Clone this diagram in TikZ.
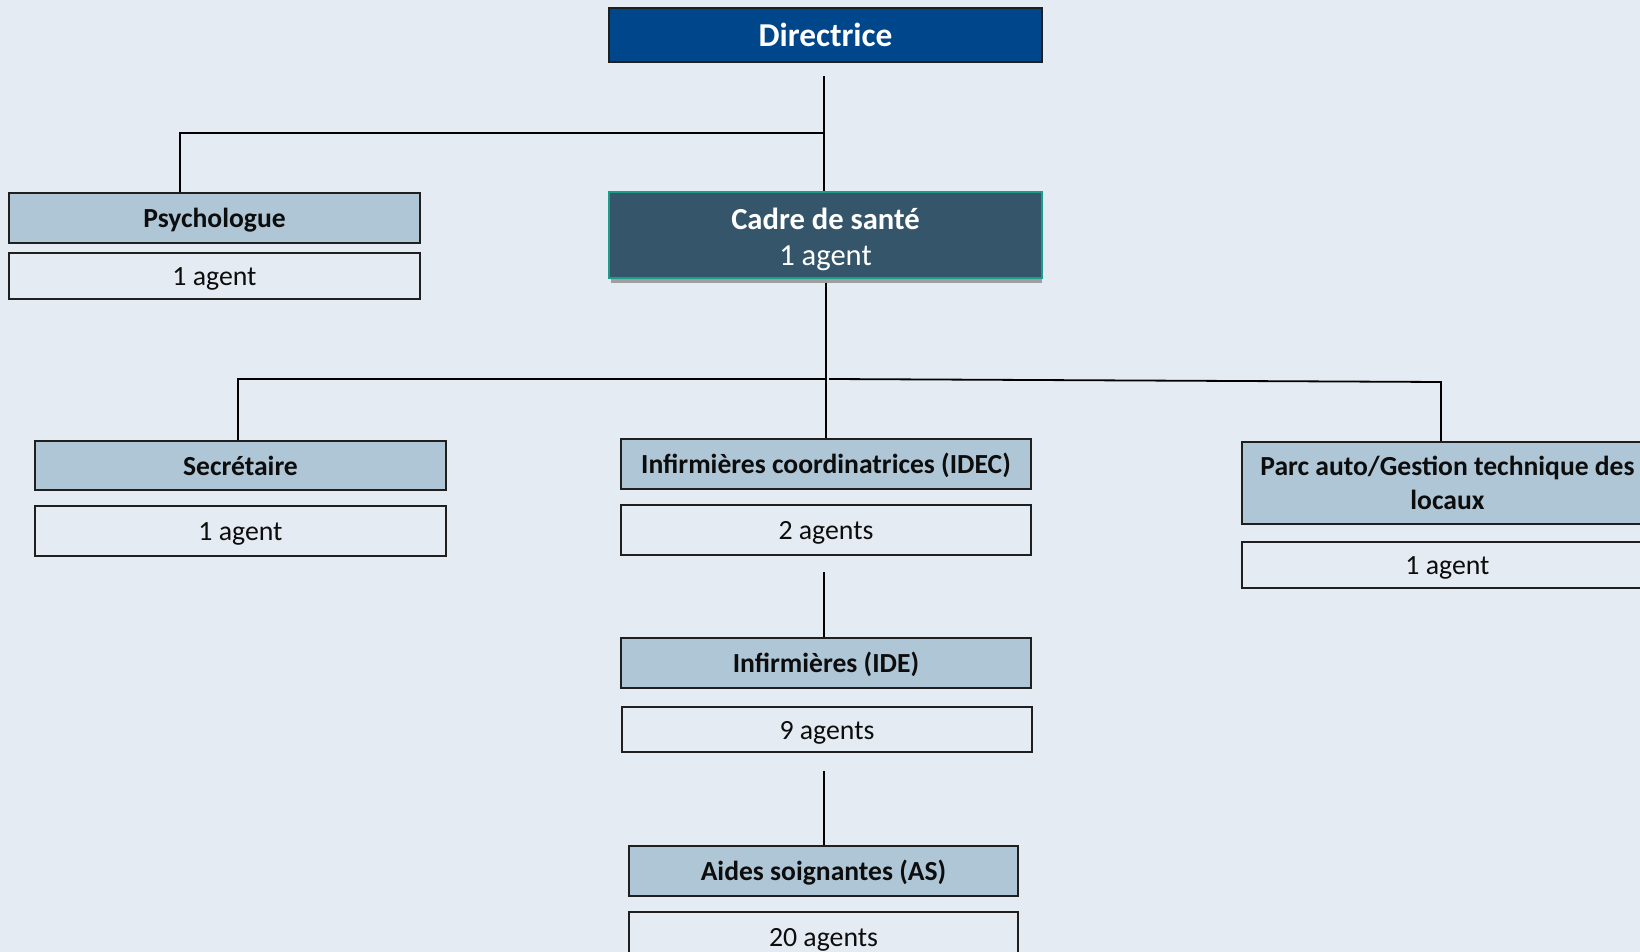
\documentclass[tikz,border=0pt]{standalone}
\usepackage{fontspec}
\setmainfont{Carlito}
\definecolor{bgc}{HTML}{E4EBF2}
\definecolor{dirblue}{HTML}{00468B}
\definecolor{cadrefill}{HTML}{34556A}
\definecolor{cadreedge}{HTML}{1E9C8A}
\definecolor{lightblue}{HTML}{AEC6D6}
\definecolor{edgec}{HTML}{1F1F1F}
\definecolor{txt}{HTML}{0D0D0D}
\tikzset{
  box/.style={draw=edgec, line width=0.9pt, inner sep=0pt, align=center, text=txt},
  oneline/.style={text height=10.5pt, text depth=1pt},
  titlebox/.style={box, fill=lightblue, font=\fontsize{13.8}{16.8}\selectfont\bfseries},
  agentbox/.style={box, oneline, font=\fontsize{13.9}{16.8}\selectfont},
  link/.style={draw=black, line width=0.9pt}
}
\begin{document}
\begin{tikzpicture}[x=0.5pt,y=-0.5pt]
\fill[bgc] (0,0) rectangle (1640,952);
\useasboundingbox (0,0) rectangle (1640,952);
% Directrice
\node[box, fill=dirblue, text=white, minimum width=216.5pt, minimum height=27pt, font=\fontsize{16.7}{20}\selectfont\bfseries] (dir) at (825.5,35) {Directrice};
% Cadre shadow + box
\fill[gray!75] (611,278) rectangle (1042,283);
\node[box, draw=cadreedge, line width=1pt, fill=cadrefill, text=white, minimum width=216.5pt, minimum height=43pt, font=\fontsize{15.3}{17.8}\selectfont] (cadre) at (825.5,235) {\rule{0pt}{15pt}\textbf{Cadre de santé}\\{\fontsize{15.3}{17.8}\selectfont 1 agent}};
\coordinate (cadrebot) at (826,283);
% Psychologue
\node[titlebox, oneline, minimum width=205.5pt, minimum height=25pt] (psy) at (214.5,218) {Psychologue};
\node[agentbox, minimum width=205.5pt, minimum height=23pt] (psya) at (214.5,276) {1 agent};
% Secretaire
\node[titlebox, oneline, minimum width=205.5pt, minimum height=24.5pt] (sec) at (240.5,465.5) {Secrétaire};
\node[agentbox, minimum width=205.5pt, minimum height=25pt] (seca) at (240.5,531) {1 agent};
% IDEC
\node[titlebox, oneline, minimum width=205pt, minimum height=25pt] (idec) at (826,464) {Infirmières coordinatrices (IDEC)};
\node[agentbox, minimum width=205pt, minimum height=25pt] (ideca) at (826,530) {2 agents};
% Parc
\node[titlebox, minimum width=205.5pt, minimum height=41pt] (parc) at (1447.5,483) {Parc auto/Gestion technique des\\locaux};
\node[agentbox, minimum width=205.5pt, minimum height=23pt] (parca) at (1447.5,565) {1 agent};
% IDE
\node[titlebox, oneline, minimum width=205pt, minimum height=25pt] (ide) at (826,663) {Infirmières (IDE)};
\node[agentbox, minimum width=205pt, minimum height=22.5pt] (idea) at (827,729.5) {9 agents};
% AS
\node[titlebox, oneline, minimum width=194.5pt, minimum height=25pt] (as) at (823.5,871) {Aides soignantes (AS)};
\node[agentbox, minimum width=194.5pt, minimum height=25pt] (asa) at (823.5,937) {20 agents};
% connectors
\coordinate (d0) at (824,76);
\coordinate (j1) at (824,133);
\coordinate (j2) at (826,379);
\coordinate (j3) at (829,379);
\coordinate (r1) at (1441,382);
\coordinate (g1) at (824,572);
\coordinate (g2) at (824,771);
\draw[link] (d0) -- (d0 |- cadre.north);
\draw[link] (j1) -| (psy.north -| 180,0);
\draw[link] (cadrebot) -- (cadrebot |- idec.north);
\draw[link] (j2) -| (sec.north -| 238,0);
\draw[link] (j3) -- (r1) -- (r1 |- parc.north);
\draw[link] (g1) -- (g1 |- ide.north);
\draw[link] (g2) -- (g2 |- as.north);
\end{tikzpicture}
\end{document}
